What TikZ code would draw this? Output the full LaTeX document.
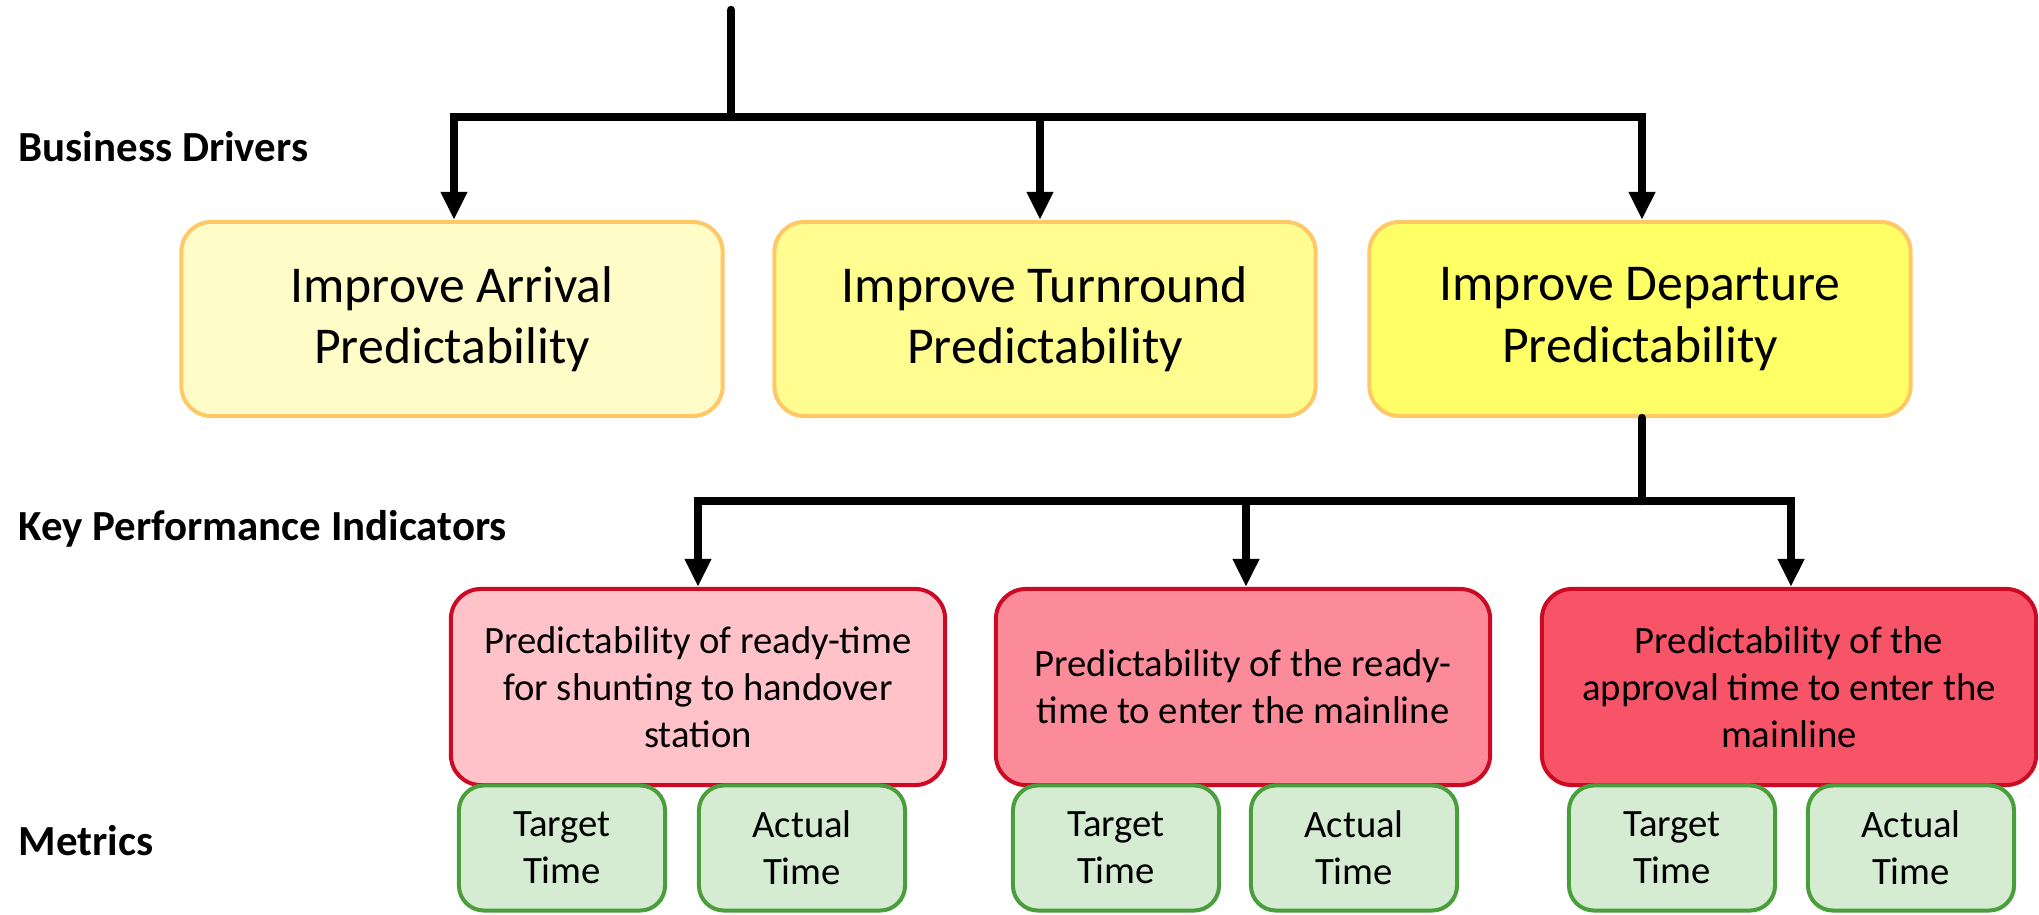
\documentclass[tikz,border=0pt]{standalone}
\usepackage{fontspec}
\setmainfont{Carlito}
\usetikzlibrary{arrows.meta}
\usetikzlibrary{positioning}
\definecolor{drvline}{HTML}{FFC866}
\definecolor{drvA}{HTML}{FFFCC8}
\definecolor{drvB}{HTML}{FFFC90}
\definecolor{drvC}{HTML}{FFFF66}
\definecolor{kpiline}{HTML}{CC0A23}
\definecolor{kpiA}{HTML}{FFC2C9}
\definecolor{kpiB}{HTML}{FB8B98}
\definecolor{kpiC}{HTML}{F75467}
\definecolor{metline}{HTML}{4A9E3C}
\definecolor{metfill}{HTML}{D5ECD3}
\tikzset{
  driver/.style={draw=drvline,line width=0.04cm,rounded corners=0.3cm,minimum width=5.41cm,minimum height=1.94cm,align=center,font=\fontsize{14.7}{17.4}\selectfont},
  kpi/.style={draw=kpiline,line width=0.04cm,rounded corners=0.3cm,minimum width=4.94cm,minimum height=1.96cm,align=center,font=\fontsize{11}{13.4}\selectfont},
  metric/.style={draw=metline,fill=metfill,line width=0.04cm,rounded corners=0.25cm,minimum width=2.06cm,minimum height=1.25cm,align=center,font=\fontsize{11}{13.4}\selectfont},
  level/.style={anchor=west,inner sep=0pt,font=\fontsize{12.2}{14}\selectfont\bfseries},
  link/.style={line width=0.085cm,color=black}
}
\begin{document}
\begin{tikzpicture}[line cap=round,line join=miter,>={Triangle[length=0.28cm,width=0.25cm]},x=0.01cm,y=-0.01cm]
\useasboundingbox (0,0) rectangle (2039,915);
% level labels
\node[level] (lblBD) at (18,147) {Business Drivers};
\node[level] (lblKPI) at (18,529) {Key Performance Indicators};
\node[level] (lblM) at (18,841) {Metrics};
% business drivers
\node[driver,fill=drvA] (drvArr) at (452,319) {Improve Arrival\\Predictability};
\node[driver,fill=drvB] (drvTurn) at (1045,319) {Improve Turnround\\Predictability};
\node[driver,fill=drvC] (drvDep) at (1640,319) {Improve Departure\\Predictability};
% key performance indicators
\node[kpi,fill=kpiA] (kpiShunt) at (698,687) {Predictability of ready-time\\for shunting to handover\\station};
\node[kpi,fill=kpiB] (kpiReady) at (1243,687) {Predictability of the ready-\\time to enter the mainline};
\node[kpi,fill=kpiC] (kpiAppr) at (1789,687) {Predictability of the\\approval time to enter the\\mainline};
% metrics
\foreach \n/\x in {ShuntT/562,ReadyT/1116,ApprT/1672}
\node[metric] (met\n) at (\x,848) {Target\\Time};
\foreach \n/\x in {ShuntA/802,ReadyA/1354,ApprA/1911}
\node[metric] (met\n) at (\x,848) {Actual\\Time};
% connectors
\coordinate (root) at (731,10);
\coordinate (busTop) at (731,117);
\coordinate (busKpi) at (1642,501);
\draw[link] (root) -- (busTop);
\draw[link,->] (busTop) -| ([xshift=0.02cm]drvArr.north);
\draw[link,->] (busTop) -| ([xshift=-0.05cm]drvTurn.north);
\draw[link,->] (busTop) -| ([xshift=0.02cm]drvDep.north);
\draw[link] (drvDep.south -| busKpi) -- (busKpi);
\draw[link,->] (busKpi) -| (kpiShunt.north);
\draw[link,->] (busKpi) -| ([xshift=0.03cm]kpiReady.north);
\draw[link,->] (busKpi) -| ([xshift=0.02cm]kpiAppr.north);
\end{tikzpicture}
\end{document}
